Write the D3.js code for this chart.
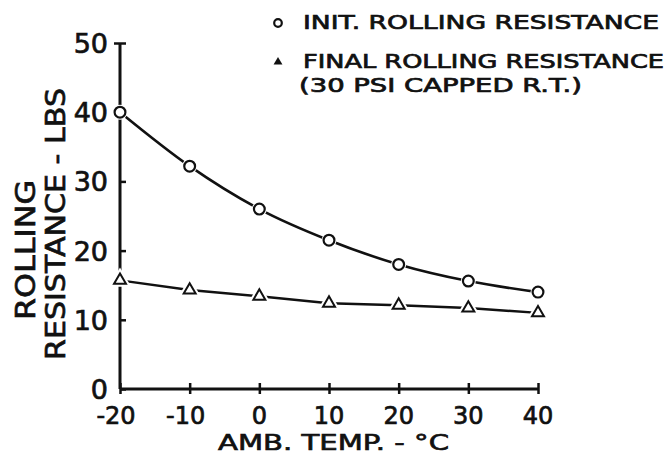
<!DOCTYPE html>
<html>
<head>
<script src="https://cdn.jsdelivr.net/npm/d3@7/dist/d3.min.js"></script>
<style>
    body { margin: 0; background: #fff; }
    svg text { font-family: "DejaVu Sans", sans-serif; fill: #111; stroke: #111; stroke-width: 0.7px; }
</style>
</head>
<body>
<svg width="668" height="455"></svg>
<script>
    // data
    var temps = [-20, -10, 0, 10, 20, 30, 40];
    var initRR = [40.0, 32.2, 26.0, 21.5, 18.0, 15.6, 14.0];
    var finalRR = [15.7, 14.3, 13.4, 12.4, 12.1, 11.7, 11.0];
    var xTicks = [-20, -10, 0, 10, 20, 30, 40];
    var yTicks = [0, 10, 20, 30, 40, 50];

    var svg = d3.select("svg");

    var x = d3.scaleLinear().domain([-20, 40]).range([120, 538]);
    var y = d3.scaleLinear().domain([0, 50]).range([389, 43]);

    var ink = "#111";

    // axes
    var yAxis = svg.append("g").attr("transform", "translate(" + x(-20) + ",0)")
        .call(d3.axisRight(y).tickValues(yTicks).tickSize(6).tickFormat(""));
    var xAxis = svg.append("g").attr("transform", "translate(0," + y(0) + ")")
        .call(d3.axisTop(x).tickValues(xTicks).tickSize(6).tickFormat(""));
    // ticks poke a bit past the axis line too
    xAxis.selectAll(".tick line").attr("y1", 5);
    yAxis.selectAll(".tick line").attr("x1", function(d) { return d === 50 ? -6 : 0; });
    svg.selectAll(".tick line").attr("stroke", ink).attr("stroke-width", 2.5);
    // domain path draws outer ticks; use plain lines instead
    svg.selectAll(".domain").remove();
    svg.append("line").attr("x1", x(-20)).attr("x2", x(-20)).attr("y1", y(50)).attr("y2", y(0))
        .attr("stroke", ink).attr("stroke-width", 3);
    svg.append("line").attr("x1", x(-20)).attr("x2", x(40)).attr("y1", y(0)).attr("y2", y(0))
        .attr("stroke", ink).attr("stroke-width", 3);

    // tick labels
    svg.selectAll(".ylab").data(yTicks).enter().append("text")
        .attr("class", "ylab")
        .attr("x", 108).attr("y", function(d) { return y(d) + 10; })
        .attr("text-anchor", "end").attr("font-size", 27)
        .text(function(d) { return d; });
    svg.selectAll(".xlab").data(xTicks).enter().append("text")
        .attr("class", "xlab")
        .attr("x", function(d) { return x(d) + (d < 0 ? -4 : 0); }).attr("y", 423.5)
        .attr("text-anchor", "middle").attr("font-size", 24)
        .text(function(d) { return d < 0 ? "-" + Math.abs(d) : d; });

    // axis titles
    svg.append("text").attr("x", 218).attr("y", 449.5).attr("font-size", 22)
        .attr("textLength", 231).attr("lengthAdjust", "spacingAndGlyphs")
        .text("AMB. TEMP. - \u00B0C");
    svg.append("text").attr("transform", "translate(35,250) rotate(-90)")
        .attr("text-anchor", "middle").attr("font-size", 27)
        .attr("textLength", 140).attr("lengthAdjust", "spacingAndGlyphs")
        .text("ROLLING");
    svg.append("text").attr("transform", "translate(65,224) rotate(-90)")
        .attr("text-anchor", "middle").attr("font-size", 27)
        .attr("textLength", 272).attr("lengthAdjust", "spacingAndGlyphs")
        .text("RESISTANCE - LBS");

    // series lines
    var initPts = temps.map(function(t, i) { return [x(t), y(initRR[i])]; });
    var finalPts = temps.map(function(t, i) { return [x(t), y(finalRR[i])]; });
    svg.append("path").attr("d", d3.line().curve(d3.curveMonotoneX)(initPts))
        .attr("fill", "none").attr("stroke", ink).attr("stroke-width", 2.6);
    svg.append("path").attr("d", d3.line()(finalPts))
        .attr("fill", "none").attr("stroke", ink).attr("stroke-width", 2.4);

    // markers (white halo leaves the small gap around each)
    var tri = d3.symbol().type(d3.symbolTriangle).size(62);
    svg.selectAll(".halo-t").data(finalPts).enter().append("path")
        .attr("d", tri).attr("transform", function(d) { return "translate(" + d[0] + "," + d[1] + ")"; })
        .attr("fill", "#fff").attr("stroke", "#fff").attr("stroke-width", 6);
    svg.selectAll(".tri").data(finalPts).enter().append("path")
        .attr("d", tri).attr("transform", function(d) { return "translate(" + d[0] + "," + d[1] + ")"; })
        .attr("fill", "#fff").attr("stroke", ink).attr("stroke-width", 2);
    svg.selectAll(".halo-c").data(initPts).enter().append("circle")
        .attr("cx", function(d) { return d[0]; }).attr("cy", function(d) { return d[1]; })
        .attr("r", 7.5).attr("fill", "#fff");
    svg.selectAll(".circ").data(initPts).enter().append("circle")
        .attr("cx", function(d) { return d[0]; }).attr("cy", function(d) { return d[1]; })
        .attr("r", 5.4).attr("fill", "#fff").attr("stroke", ink).attr("stroke-width", 2.2);

    // legend
    svg.append("circle").attr("cx", 278).attr("cy", 23).attr("r", 3.8)
        .attr("fill", "#fff").attr("stroke", ink).attr("stroke-width", 2.2);
    svg.append("path").attr("d", d3.symbol().type(d3.symbolTriangle).size(34))
        .attr("transform", "translate(278,62)").attr("fill", ink);
    svg.append("text").attr("x", 303).attr("y", 29).attr("font-size", 19)
        .attr("textLength", 356).attr("lengthAdjust", "spacingAndGlyphs")
        .text("INIT.  ROLLING RESISTANCE");
    svg.append("text").attr("x", 303).attr("y", 68).attr("font-size", 19)
        .attr("textLength", 361).attr("lengthAdjust", "spacingAndGlyphs")
        .text("FINAL ROLLING RESISTANCE");
    svg.append("text").attr("x", 299).attr("y", 92).attr("font-size", 19)
        .attr("textLength", 283).attr("lengthAdjust", "spacingAndGlyphs")
        .text("(30 PSI CAPPED R.T.)");
</script>
</body>
</html>
